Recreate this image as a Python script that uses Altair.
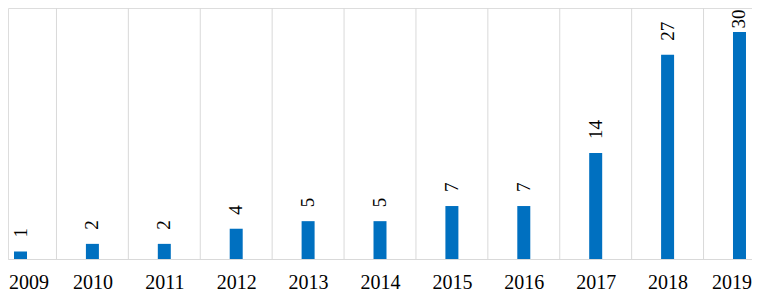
import altair as alt
import pandas as pd

years = [2009, 2010, 2011, 2012, 2013, 2014, 2015, 2016, 2017, 2018, 2019]
counts = [1, 2, 2, 4, 5, 5, 7, 7, 14, 27, 30]

df = pd.DataFrame({"year": years, "count": counts})
grid_df = pd.DataFrame({"year": years[:-1]})

X_DOMAIN = [2008.826, 2019.174]
Y_MAX = 33.17
FONT = "Liberation Serif"
first_year, last_year = years[0], years[-1]

xscale = alt.Scale(domain=X_DOMAIN, nice=False, zero=False, padding=0)
yscale = alt.Scale(domain=[0, Y_MAX], nice=False, padding=0)

xaxis = alt.Axis(
    values=years,
    format="d",
    title=None,
    grid=False,
    ticks=False,
    tickSize=0,
    labelFont=FONT,
    labelFontSize=20,
    labelColor="#000000",
    labelBaseline="alphabetic",
    labelPadding=29,
    labelFlush=False,
    labelOverlap=False,
    labelAlign={
        "condition": [
            {"test": f"datum.value == {first_year}", "value": "left"},
            {"test": f"datum.value == {last_year}", "value": "right"},
        ],
        "value": "center",
    },
    labelOffset={
        "condition": [
            {"test": f"datum.value == {first_year}", "value": -12},
            {"test": f"datum.value == {last_year}", "value": 12},
        ],
        "value": 0,
    },
    domainColor="#d9d9d9",
    domainWidth=1,
)

bars = alt.Chart(df).mark_bar(size=13, color="#0070C0").encode(
    x=alt.X("year:Q", scale=xscale, axis=xaxis),
    y=alt.Y("count:Q", scale=yscale, axis=None),
)

grid = alt.Chart(grid_df).transform_calculate(
    mid="datum.year + 0.5", top=str(Y_MAX), bottom="0"
).mark_rule(color="#d9d9d9", strokeWidth=1).encode(
    x=alt.X("mid:Q", scale=xscale, axis=xaxis),
    y=alt.Y("top:Q", scale=yscale, axis=None),
    y2="bottom:Q",
)

labels = alt.Chart(df).transform_calculate(
    ly="min(datum.count, 28.6)"
).mark_text(
    angle=270, align="left", baseline="middle", dx=14,
    font=FONT, fontSize=19, color="#000000",
).encode(
    x=alt.X("year:Q", scale=xscale, axis=xaxis),
    y=alt.Y("ly:Q", scale=yscale, axis=None),
    text=alt.Text("count:Q"),
)

chart = alt.layer(bars, grid, labels).properties(
    width=744,
    height=251,
    autosize=alt.AutoSizeParams(type="none"),
    padding={"left": 0, "top": 0, "right": 0, "bottom": 33},
).configure_view(stroke=None).configure(background="white", font=FONT)

chart.save("out.html", embed_options={"renderer": "svg", "actions": False})
